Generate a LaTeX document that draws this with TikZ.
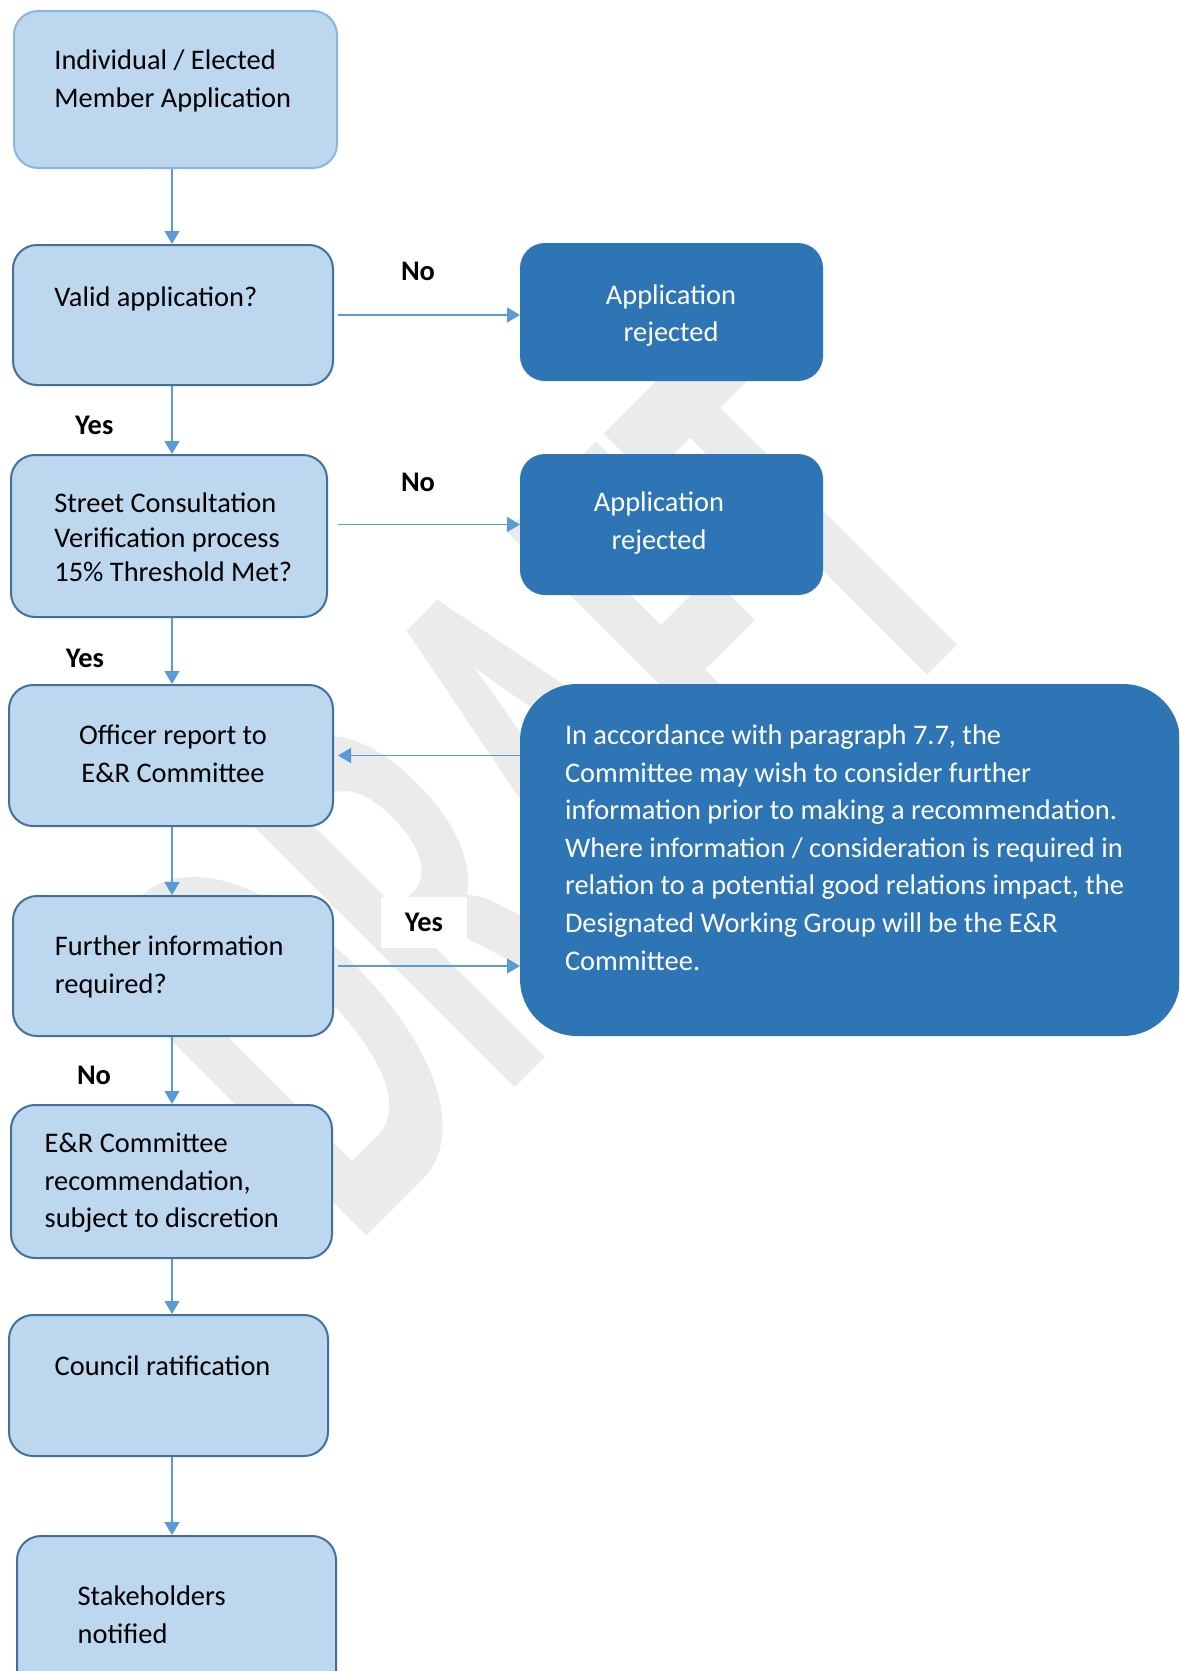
\documentclass[tikz,border=0pt]{standalone}
\usepackage{fontspec}
\setmainfont{Carlito}
\usepackage{tikz}
\usetikzlibrary{calc}
\usetikzlibrary{arrows.meta}
\usetikzlibrary{positioning}

\definecolor{paleblue}{HTML}{BDD7EE}
\definecolor{edgeblue}{HTML}{41719C}
\definecolor{softedge}{HTML}{8CB4E0}
\definecolor{deepblue}{HTML}{2E75B6}
\definecolor{linkblue}{HTML}{5B9BD5}
\definecolor{markgray}{HTML}{EBEBEB}

\newcommand{\flowfont}{\fontsize{14.2pt}{18.8pt}\selectfont}

\tikzset{
  stage/.style={draw=edgeblue, fill=paleblue, line width=1pt, rounded corners=12pt, inner sep=0pt},
  refusal/.style={draw=deepblue, fill=deepblue, line width=1pt, rounded corners=12pt, inner sep=0pt},
  remark/.style={draw=deepblue, fill=deepblue, line width=1pt, rounded corners=28pt, inner sep=0pt},
  words/.style={font=\flowfont, inner sep=0pt, align=left, anchor=base west},
  answer/.style={font=\flowfont\bfseries, inner sep=0pt, anchor=base},
  link/.style={draw=linkblue, line width=0.8pt, -{Triangle[length=6.5pt,width=7.5pt]}},
}

\begin{document}
\begin{tikzpicture}[x=0.5pt, y=-0.5pt]
    \useasboundingbox (0,0) rectangle (1179,1671);
    \clip (0,0) rectangle (1179,1671);

    % watermark behind everything
    \node[text=markgray, font=\fontsize{308pt}{308pt}\selectfont\bfseries,
      inner sep=0pt, rotate=45, anchor=base west] (draft) at (353,1250)
    {\scalebox{0.54}[1]{DRAFT}};

    % boxes of the main column
    \node[stage, draw=softedge, minimum width=161.5pt, minimum height=78.5pt] (app) at (175.5,89.5) {};
    \node[stage, minimum width=160pt, minimum height=70pt] (valid) at (173,315) {};
    \node[stage, minimum width=158pt, minimum height=81pt] (street) at (169,536) {};
    \node[stage, minimum width=162pt, minimum height=70.5pt] (officer) at (171,755.5) {};
    \node[stage, minimum width=160pt, minimum height=70pt] (further) at (173,966) {};
    \node[stage, minimum width=160.5pt, minimum height=76.5pt] (recom) at (171.5,1181.5) {};
    \node[stage, minimum width=159.5pt, minimum height=70.5pt] (council) at (168.5,1385.5) {};
    \node[stage, minimum width=159.5pt, minimum height=81pt] (notify) at (176.5,1617) {};

    % boxes on the right
    \node[refusal, minimum width=150.5pt, minimum height=68pt] (rej1) at (671.5,312) {};
    \node[refusal, minimum width=150.5pt, minimum height=69.5pt] (rej2) at (671.5,524.5) {};
    \node[remark, minimum width=329pt, minimum height=175pt] (note) at (850,860) {};

    % texts (base = baseline of the last line)
    \node[words] (app-t) at (54,107.5) {Individual / Elected\\Member Application};
    \node[words] (valid-t) at (54,306.7) {Valid application?};
    \node[words, font=\fontsize{14.2pt}{17.35pt}\selectfont] (street-t) at (54,581.7)
    {Street Consultation\\Verification process\\15\% Threshold Met?};
    \node[words, align=center, anchor=base] (officer-t) at (173,782) {Officer report to\\E\&R Committee};
    \node[words] (further-t) at (54.5,993.3) {Further information\\required?};
    \node[words] (recom-t) at (44.3,1227.7) {E\&R Committee\\recommendation,\\subject to discretion};
    \node[words] (council-t) at (54.3,1375) {Council ratification};
    \node[words] (notify-t) at (77.3,1643) {Stakeholders\\notified};
    \node[words, text=white, align=center, anchor=base] (rej1-t) at (671,341.7) {Application\\rejected};
    \node[words, text=white, align=center, anchor=base] (rej2-t) at (659,549.3) {Application\\rejected};
    \node[words, text=white] (note-t) at (564.6,970)
    {In accordance with paragraph 7.7, the\\Committee may wish to consider further\\information prior to making a recommendation.\\Where information / consideration is required in\\relation to a potential good relations impact, the\\Designated Working Group will be the E\&R\\Committee.};

    % connectors
    \coordinate (spine) at (172,0);
    \foreach \a/\b in {app/valid,valid/street,street/officer,officer/further,further/recom,recom/council,council/notify}
    \draw[link] (\a.south -| spine) -- (\b.north -| spine);

    \draw[link] ([xshift=2pt]valid.east) -- (valid.east -| rej1.west);
    \draw[link] ([xshift=5pt]street.east |- rej2.west) -- (rej2.west);
    \draw[link] (note.west |- officer.east) -- ([xshift=2pt]officer.east);
    \draw[link] ([xshift=2pt]further.east) -- (further.east -| note.west);

    % answers
    \node[answer] (no1) at (418,280.7) {No};
    \node[answer] (no2) at (418,491.7) {No};
    \node[answer] (yes1) at (94.3,434) {Yes};
    \node[answer] (yes2) at (85,667.3) {Yes};
    \node[answer, anchor=center, fill=white, minimum width=43pt, minimum height=25.5pt] (yes3) at (424,922.5) {Yes};
    \node[answer] (no3) at (94,1084) {No};
\end{tikzpicture}
\end{document}
